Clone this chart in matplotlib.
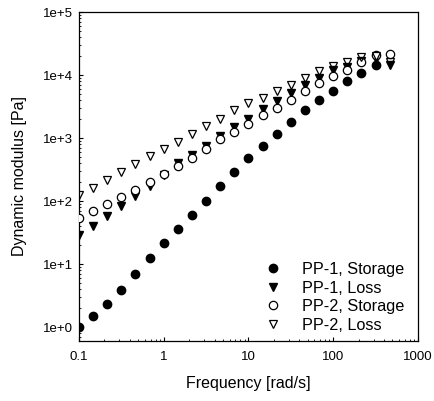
import matplotlib
matplotlib.use("Agg")
import matplotlib.pyplot as plt
from matplotlib.ticker import LogLocator, FixedLocator, NullFormatter
import numpy as np

plt.rcParams["font.family"] = ["Liberation Sans", "DejaVu Sans"]

# angular frequency [rad/s], 6 points per decade
freq = [0.1, 0.147, 0.215, 0.316, 0.464, 0.681, 1.0, 1.47, 2.15, 3.16, 4.64,
        6.81, 10.0, 14.7, 21.5, 31.6, 46.4, 68.1, 100.0, 147.0, 215.0, 316.0,
        464.0]

# dynamic moduli [Pa]
pp1_storage = [1.0, 1.50, 2.38, 3.88, 6.98, 12.4, 21.5, 36.0, 60.3, 102, 176,
               288, 479, 741, 1150, 1820, 2750, 3980, 5620, 8130, 10960, 14450]
pp1_loss = [28.8, 40.7, 57.5, 85.1, 123, 174, 257, 398, 537, 759, 1070, 1510,
            2040, 2880, 3890, 5130, 7080, 9120, 12020, 13490, 16600, 17780,
            14450]
pp2_storage = [55.0, 70.8, 89.1, 117, 151, 200, 269, 363, 490, 661, 955, 1260,
               1700, 2290, 3020, 4070, 5620, 7410, 9770, 12020, 16220, 20890,
               21380]
pp2_loss = [126, 162, 219, 288, 389, 513, 676, 871, 1175, 1550, 2040, 2750,
            3630, 4370, 5620, 7080, 9120, 11480, 13800, 16220, 19050, 19950,
            15850]

labels = ["PP-1, Storage", "PP-1, Loss", "PP-2, Storage", "PP-2, Loss"]

fig = plt.figure(figsize=(4.34, 4.01), dpi=100)
ax = fig.add_axes([0.182, 0.150, 0.781, 0.820])

ms = 6.0
ax.plot(freq[:len(pp1_storage)], pp1_storage, "o", color="black", ms=ms,
        label=labels[0], zorder=3)
ax.plot(freq, pp1_loss, "v", color="black", ms=ms, label=labels[1], zorder=3)
ax.plot(freq, pp2_storage, "o", mfc="white", mec="black", mew=0.9, ms=ms,
        label=labels[2], zorder=4)
ax.plot(freq, pp2_loss, "v", mfc="none", mec="black", mew=0.9, ms=ms,
        label=labels[3], zorder=4)

ax.set_xscale("log")
ax.set_yscale("log")
ax.set_xlim(0.1, 1000)
ax.set_ylim(0.61, 1e5)

xticks = [0.1, 1, 10, 100, 1000]
xticklabels = ["0.1", "1", "10", "100", "1000"]
yticks = [1, 10, 100, 1000, 1e4, 1e5]
yticklabels = ["1e+0", "1e+1", "1e+2", "1e+3", "1e+4", "1e+5"]
ax.xaxis.set_major_locator(FixedLocator(xticks))
ax.set_xticklabels(xticklabels)
ax.yaxis.set_major_locator(FixedLocator(yticks))
ax.set_yticklabels(yticklabels)
ax.xaxis.set_minor_locator(LogLocator(base=10, subs=np.arange(2, 10), numticks=20))
ax.yaxis.set_minor_locator(LogLocator(base=10, subs=np.arange(2, 10), numticks=20))
ax.xaxis.set_minor_formatter(NullFormatter())
ax.yaxis.set_minor_formatter(NullFormatter())

ax.tick_params(which="major", direction="in", length=3, width=0.8,
               labelsize=9.5, pad=4)
ax.tick_params(axis="x", which="major", pad=7)
ax.tick_params(which="minor", direction="in", length=1.5, width=0.6)
for s in ax.spines.values():
    s.set_linewidth(0.9)

ax.set_xlabel("Frequency [rad/s]", fontsize=11.5, labelpad=10)
ax.set_ylabel("Dynamic modulus [Pa]", fontsize=11.5, labelpad=12)

ax.legend(loc="lower right", bbox_to_anchor=(0.99, -0.005), frameon=False,
          fontsize=11.7, handletextpad=1.3, labelspacing=0.22,
          borderaxespad=0.2, handlelength=1.0)

fig.savefig("out.png", dpi=100)
